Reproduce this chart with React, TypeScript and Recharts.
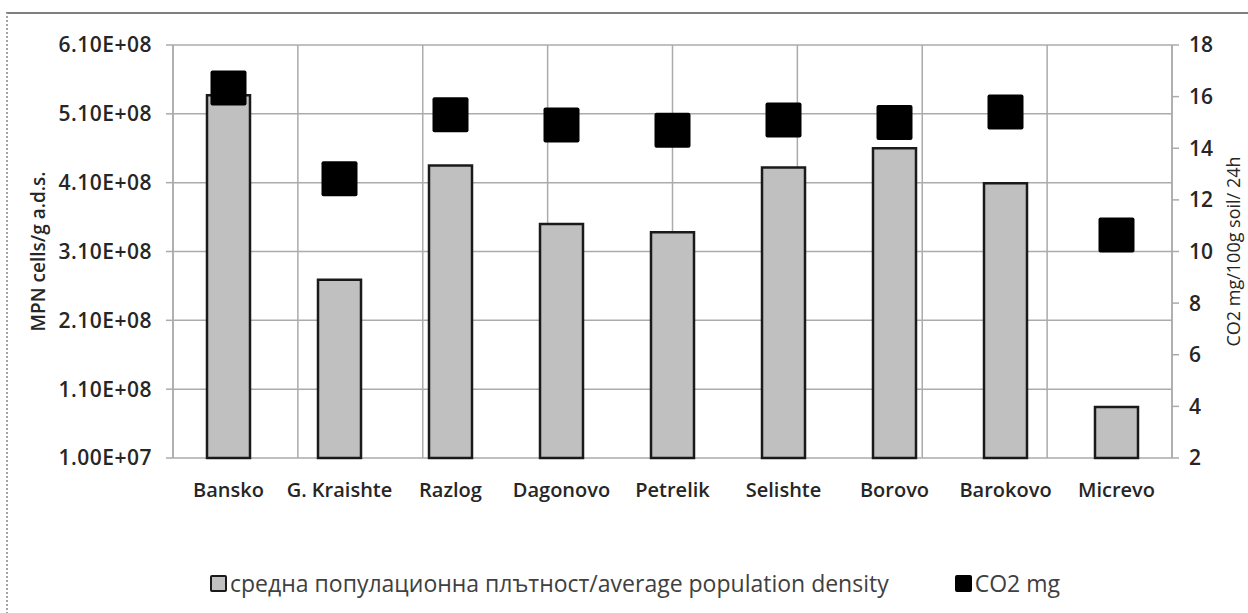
import React from 'react';
import {
  ComposedChart,
  Bar,
  Line,
  XAxis,
  YAxis,
  CartesianGrid,
  Legend,
} from 'recharts';

// Sampling sites
const sites = [
  'Bansko',
  'G. Kraishte',
  'Razlog',
  'Dagonovo',
  'Petrelik',
  'Selishte',
  'Borovo',
  'Barokovo',
  'Micrevo',
];

// Average population density, MPN cells/g a.d.s.
const density = [5.37e8, 2.69e8, 4.35e8, 3.5e8, 3.38e8, 4.32e8, 4.6e8, 4.09e8, 8.4e7];

// Soil respiration, CO2 mg/100g soil/24h
const co2 = [16.33, 12.82, 15.3, 14.9, 14.7, 15.09, 15.0, 15.4, 10.64];

const densityTicks = [1.0e7, 1.1e8, 2.1e8, 3.1e8, 4.1e8, 5.1e8, 6.1e8];
const co2Ticks = [2, 4, 6, 8, 10, 12, 14, 16, 18];

const densityName = 'средна популационна плътност/average population density';
const co2Name = 'CO2 mg';
const leftTitle = 'MPN cells/g a.d.s.';
const rightTitle = 'CO2 mg/100g soil/ 24h';

const rows = sites.map((site, i) => ({ site, density: density[i], co2: co2[i] }));
const boundaryTicks = [...sites.map((_, i) => i), sites.length];
const legendOrder = ['density', 'co2'];

const FONT = "'Open Sans', 'Noto Sans', sans-serif";
const GRID = '#ababab';
const INK = '#262626';

// 6.10E+08 style
const sci = (v: number) => {
  const [m, e] = v.toExponential(2).split('e');
  const sign = e[0] === '-' ? '-' : '+';
  const digits = e.replace(/^[+-]/, '').padStart(2, '0');
  return `${m}E${sign}${digits}`;
};

const SquareDot = (props: any) => {
  const { cx, cy } = props;
  if (cx == null || cy == null) return null;
  return <rect x={cx - 18} y={cy - 17.5} width={36} height={35} rx={2} fill="#000000" />;
};

const seriesStyle: Record<string, { fill: string; stroke: string }> = {
  density: { fill: '#c0c0c0', stroke: '#1a1a1a' },
  co2: { fill: '#000000', stroke: '#000000' },
};

const LegendContent = (props: any) => {
  const payload = [...(props.payload || [])].sort(
    (a: any, b: any) => legendOrder.indexOf(a.dataKey) - legendOrder.indexOf(b.dataKey)
  );
  return (
    <div
      style={{
        display: 'flex',
        alignItems: 'center',
        height: 40,
        paddingLeft: 210,
        fontFamily: FONT,
        fontSize: 23,
        color: '#404040',
        gap: 66,
      }}
    >
      {payload.map((entry: any) => {
        const st = seriesStyle[entry.dataKey] || seriesStyle.density;
        return (
          <div key={entry.dataKey} style={{ display: 'flex', alignItems: 'center' }}>
            <span
              style={{
                display: 'inline-block',
                width: 13,
                height: 13,
                background: st.fill,
                border: `2px solid ${st.stroke}`,
                borderRadius: 2,
                marginRight: 3,
              }}
            />
            <span style={{ whiteSpace: 'nowrap' }}>{entry.value}</span>
          </div>
        );
      })}
    </div>
  );
};

const LeftTitle = (props: any) => {
  const vb = props.viewBox || {};
  const cx = (vb.x ?? 0) + 38;
  const cy = (vb.y ?? 0) + (vb.height ?? 0) / 2;
  return (
    <text
      x={cx}
      y={cy}
      transform={`rotate(-90 ${cx} ${cy})`}
      textAnchor="middle"
      dominantBaseline="central"
      fontFamily={FONT}
      fontSize={19}
      fontWeight={600}
      fill={INK}
    >
      {leftTitle}
    </text>
  );
};

const RightTitle = (props: any) => {
  const vb = props.viewBox || {};
  const cx = (vb.x ?? 0) + 61;
  const cy = (vb.y ?? 0) + (vb.height ?? 0) / 2;
  return (
    <text
      x={cx}
      y={cy}
      transform={`rotate(-90 ${cx} ${cy})`}
      textAnchor="middle"
      dominantBaseline="central"
      fontFamily={FONT}
      fontSize={18}
      fill={INK}
    >
      {rightTitle}
    </text>
  );
};

const tickFont = {
  fill: INK,
  fontSize: 21,
  fontWeight: 600,
  fontFamily: FONT,
  letterSpacing: 0.5,
};

const NoLabel = () => <g />;

export default function App() {
  return (
    <div style={{ position: 'relative', width: 1248, height: 613, overflow: 'hidden', background: '#ffffff' }}>
      <style>{'body{margin:0}'}</style>
      <div
        style={{
          position: 'absolute',
          left: 6,
          top: 12,
          width: 1300,
          height: 700,
          borderTop: '2px solid #7f7f7f',
          borderLeft: '2px dotted #a3a3a3',
        }}
      />
      <ComposedChart
        width={1248}
        height={613}
        data={rows}
        margin={{ top: 45, right: 0, bottom: 10, left: 0 }}
        barCategoryGap="30%"
        style={{ position: 'absolute', left: 0, top: 0 }}
      >
        <CartesianGrid xAxisId="grid" yAxisId="left" stroke={GRID} strokeWidth={1.5} />
        <XAxis
          xAxisId="grid"
          type="number"
          domain={[0, sites.length]}
          ticks={boundaryTicks}
          interval={0}
          allowDataOverflow
          height={0}
          axisLine={false}
          tickLine={{ stroke: GRID, strokeWidth: 1.5 }}
          tickSize={7}
          tick={NoLabel}
        />
        <XAxis
          xAxisId="cat"
          dataKey="site"
          height={105}
          axisLine={false}
          tickLine={false}
          tickSize={6}
          tickMargin={19}
          interval={0}
          tick={{ ...tickFont, fontSize: 20, letterSpacing: 0 }}
        />
        <YAxis
          yAxisId="left"
          width={173}
          domain={[densityTicks[0], densityTicks[densityTicks.length - 1]]}
          ticks={densityTicks}
          interval={0}
          tickFormatter={sci}
          axisLine={{ stroke: GRID, strokeWidth: 1.5 }}
          tickLine={{ stroke: GRID, strokeWidth: 1.5 }}
          tickSize={7}
          tickMargin={14}
          tick={tickFont}
          label={<LeftTitle />}
        />
        <YAxis
          yAxisId="right"
          orientation="right"
          width={76}
          domain={[co2Ticks[0], co2Ticks[co2Ticks.length - 1]]}
          ticks={co2Ticks}
          interval={0}
          axisLine={{ stroke: GRID, strokeWidth: 1.5 }}
          tickLine={{ stroke: GRID, strokeWidth: 1.5 }}
          tickSize={7}
          tickMargin={10}
          tick={{ ...tickFont, letterSpacing: 0 }}
          label={<RightTitle />}
        />
        <Legend
          verticalAlign="bottom"
          content={<LegendContent />}
          wrapperStyle={{ height: 40 }}
        />
        <Bar
          xAxisId="cat"
          yAxisId="left"
          dataKey="density"
          name={densityName}
          fill={seriesStyle.density.fill}
          stroke={seriesStyle.density.stroke}
          strokeWidth={2.5}
          barSize={43}
          isAnimationActive={false}
        />
        <Line
          xAxisId="cat"
          yAxisId="right"
          dataKey="co2"
          name={co2Name}
          stroke="#000000"
          strokeWidth={0}
          dot={(p: any) => <SquareDot key={`sq-${p.index}`} {...p} />}
          activeDot={false}
          legendType="square"
          isAnimationActive={false}
        />
      </ComposedChart>
    </div>
  );
}
